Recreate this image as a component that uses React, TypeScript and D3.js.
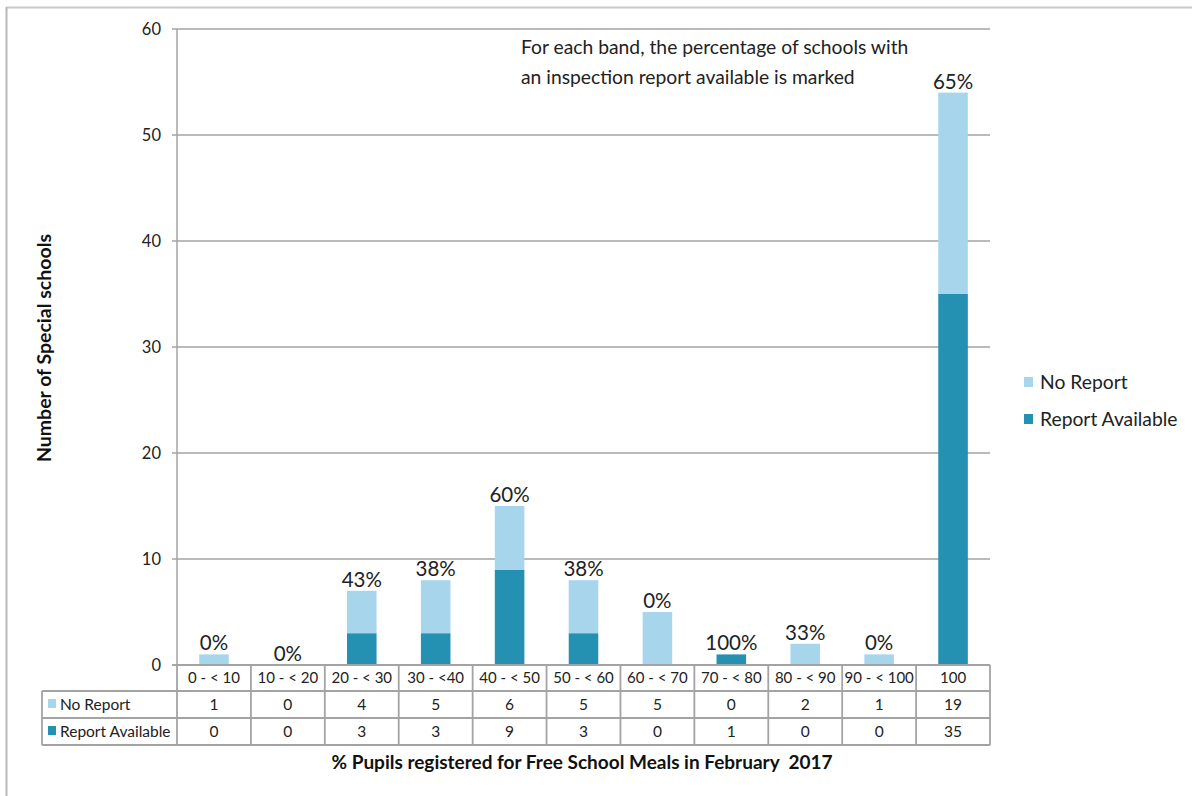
import React from "react";
import * as d3 from "d3";

const categories = ["0 - < 10", "10 - < 20", "20 - < 30", "30 - <40", "40 - < 50", "50 - < 60", "60 - < 70", "70 - < 80", "80 - < 90", "90 - < 100", "100"];
const noReport = [1, 0, 4, 5, 6, 5, 5, 0, 2, 1, 19];
const reportAvailable = [0, 0, 3, 3, 9, 3, 0, 1, 0, 0, 35];
const pctLabels = ["0%", "0%", "43%", "38%", "60%", "38%", "0%", "100%", "33%", "0%", "65%"];
const yTicks = [0, 10, 20, 30, 40, 50, 60];

const LIGHT = "#a7d5ec";
const DARK = "#2490b2";
const GRID = "#a3a3a3";
const FONT = "Lato, 'Open Sans', sans-serif";

export default function App() {
  const W = 1192, H = 796;
  const left = 177, right = 990, top = 29, bottom = 665;
  const x = d3.scaleBand<string>().domain(categories).range([left, right]).paddingInner(0.6).paddingOuter(0.3);
  const xb = d3.scaleBand<string>().domain(categories).range([left, right]);
  const y = d3.scaleLinear().domain([0, 60]).range([bottom, top]);
  const rowY = [665, 691, 718, 745];
  const tableLeft = 42;

  return (
    <div style={{ position: "absolute", left: 0, top: 0 }}>
      <svg width={W} height={H} style={{ display: "block", fontFamily: FONT }}>
        <rect x={0} y={0} width={W} height={H} fill="#fff" />
        {/* outer frame */}
        <line x1={6} x2={W} y1={7.5} y2={7.5} stroke="#c8c8c8" strokeWidth={2} />
        <line x1={6.5} x2={6.5} y1={7} y2={H} stroke="#b8b8b8" strokeWidth={2} />

        {/* gridlines & ticks */}
        {yTicks.map((t) => (
          <g key={t}>
            <line x1={left - 5} x2={right} y1={y(t)} y2={y(t)} stroke={GRID} strokeWidth={1.5} />
            <text x={161} y={y(t)} dy="0.35em" textAnchor="end" fontSize={16.5} fill="#222">{t}</text>
          </g>
        ))}
        <line x1={left} x2={left} y1={top} y2={bottom} stroke={GRID} strokeWidth={1.5} />

        {/* bars */}
        {categories.map((c, i) => {
          const total = noReport[i] + reportAvailable[i];
          const bx = x(c)!;
          return (
            <g key={c}>
              {reportAvailable[i] > 0 && (
                <rect x={bx} width={x.bandwidth()} y={y(reportAvailable[i])} height={y(0) - y(reportAvailable[i])} fill={DARK} />
              )}
              {noReport[i] > 0 && (
                <rect x={bx} width={x.bandwidth()} y={y(total)} height={y(reportAvailable[i]) - y(total)} fill={LIGHT} />
              )}
              <text x={bx + x.bandwidth() / 2} y={y(total) - 4} textAnchor="middle" fontSize={20.5} fill="#222">{pctLabels[i]}</text>
            </g>
          );
        })}
        <line x1={left - 5} x2={right} y1={bottom} y2={bottom} stroke={GRID} strokeWidth={1.5} />

        {/* data table */}
        <g stroke={GRID} strokeWidth={1.8} fill="none">
          <line x1={left} x2={right} y1={rowY[0]} y2={rowY[0]} />
          {[1, 2, 3].map((r) => (
            <line key={r} x1={tableLeft} x2={right} y1={rowY[r]} y2={rowY[r]} />
          ))}
          <line x1={tableLeft} x2={tableLeft} y1={rowY[1]} y2={rowY[3]} />
          {categories.map((c) => (
            <line key={c} x1={xb(c)!} x2={xb(c)!} y1={rowY[0]} y2={rowY[3]} />
          ))}
          <line x1={right} x2={right} y1={rowY[0]} y2={rowY[3]} />
        </g>
        {categories.map((c, i) => {
          const cx = xb(c)! + xb.bandwidth() / 2;
          return (
            <g key={c} fill="#222" textAnchor="middle">
              <text x={cx} y={(rowY[0] + rowY[1]) / 2} dy="0.35em" fontSize={15}>{c}</text>
              <text x={cx} y={(rowY[1] + rowY[2]) / 2} dy="0.35em" fontSize={15.5}>{noReport[i]}</text>
              <text x={cx} y={(rowY[2] + rowY[3]) / 2} dy="0.35em" fontSize={15.5}>{reportAvailable[i]}</text>
            </g>
          );
        })}
        <rect x={48} y={699} width={8} height={9} fill={LIGHT} />
        <text x={60} y={(rowY[1] + rowY[2]) / 2} dy="0.35em" fontSize={15.5} fill="#222">No Report</text>
        <rect x={48} y={726} width={8} height={9} fill={DARK} />
        <text x={60} y={(rowY[2] + rowY[3]) / 2} dy="0.35em" fontSize={15.5} fill="#222">Report Available</text>

        {/* axis titles */}
        <text transform="translate(51,348) rotate(-90)" textAnchor="middle" fontSize={19.5} fontWeight="bold" fill="#111">Number of Special schools</text>
        <text x={582} y={769} textAnchor="middle" fontSize={19} fontWeight="bold" fill="#111" style={{ whiteSpace: "pre" }}>% Pupils registered for Free School Meals in February  2017</text>

        {/* annotation */}
        <text x={521} y={54} fontSize={19.3} fill="#222">For each band, the percentage of schools with</text>
        <text x={521} y={84} fontSize={19.3} fill="#222">an inspection report available is marked</text>

        {/* legend */}
        <rect x={1024} y={377} width={9} height={10} fill={LIGHT} />
        <text x={1040} y={389} fontSize={19.3} fill="#222">No Report</text>
        <rect x={1024} y={414} width={9} height={10} fill={DARK} />
        <text x={1040} y={426} fontSize={19.3} fill="#222">Report Available</text>
      </svg>
    </div>
  );
}
